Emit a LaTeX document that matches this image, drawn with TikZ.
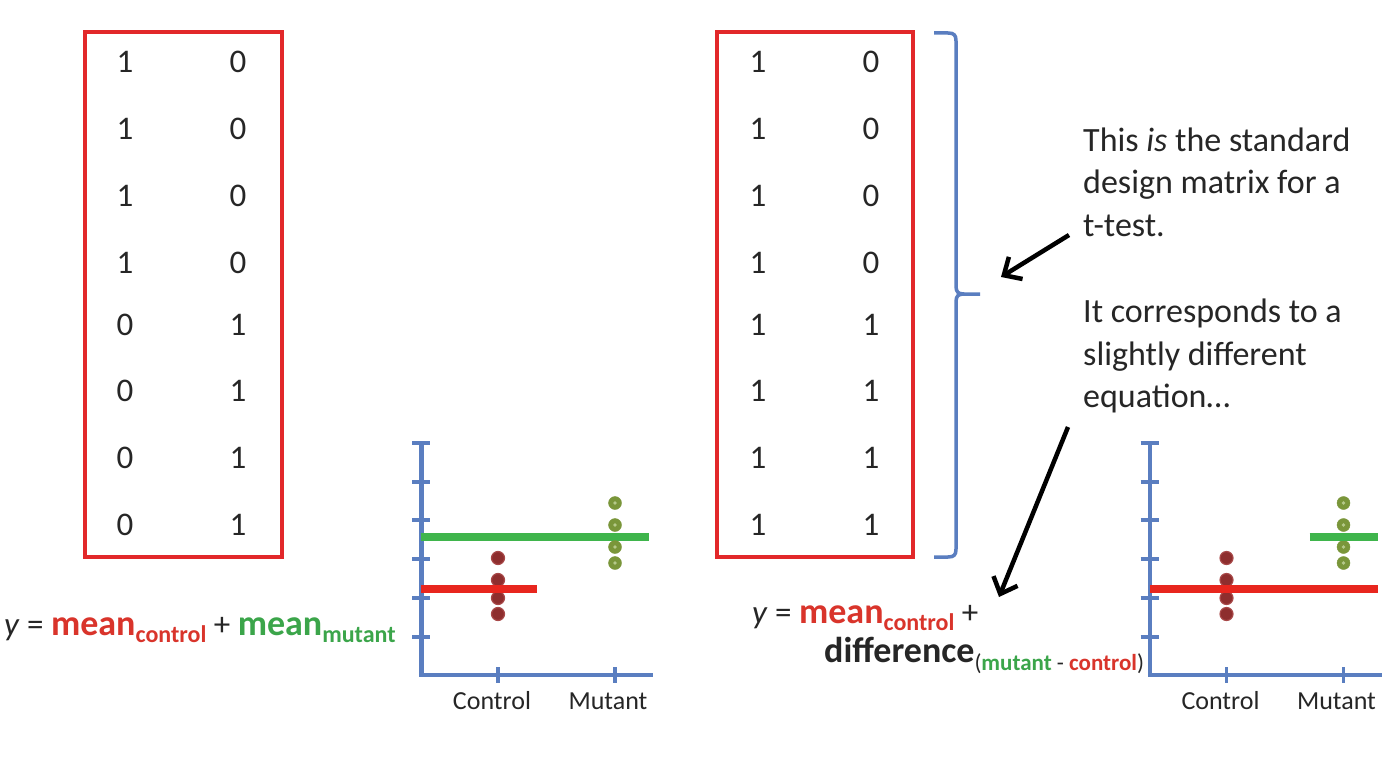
\documentclass[tikz,border=0pt]{standalone}
\usepackage{fontspec}
\setmainfont{Carlito}
\usetikzlibrary{arrows.meta}
\definecolor{boxred}{HTML}{E2282A}
\definecolor{txtred}{HTML}{D9342B}
\definecolor{txtgreen}{HTML}{3BA54A}
\definecolor{linegreen}{HTML}{3FB54C}
\definecolor{linered}{HTML}{E8261E}
\definecolor{axisblue}{HTML}{5A7EC0}
\definecolor{dotred}{HTML}{8E2E2E}
\definecolor{dotredrim}{HTML}{A84848}
\definecolor{dotgreen}{HTML}{7A963A}
\definecolor{dotgreenc}{HTML}{B5C98A}
\definecolor{txtgray}{HTML}{262626}
\begin{document}
\begin{tikzpicture}[x=1pt,y=-1pt,
  matbox/.style={draw=boxred,line width=4.5pt},
  num/.style={font=\fontsize{33}{36}\selectfont,text=txtgray,inner sep=0pt},
  axis/.style={draw=axisblue,line width=4.5pt},
  tick/.style={draw=axisblue,line width=3.5pt},
  meanline/.style={line width=8pt},
  rdot/.style={circle,fill=dotred,draw=dotredrim,line width=1.2pt,minimum size=13pt,inner sep=0pt},
  gdot/.style={circle,fill=dotgreen,draw=dotgreen,minimum size=13pt,inner sep=0pt},
  lbl/.style={font=\fontsize{26}{30}\selectfont,text=txtgray,inner sep=0pt,anchor=base},
  note/.style={font=\fontsize{34}{42}\selectfont,text=txtgray,inner sep=0pt,anchor=base west},
  eq/.style={text=txtgray,inner sep=0pt,anchor=base west},
  pointer/.style={draw=black,line width=4.5pt,-{Straight Barb[length=14pt,width=26pt,line width=4.5pt]}}
]
\useasboundingbox (0,0) rectangle (1392,784);
\fill[white] (0,0) rectangle (1392,784);

% ---- left matrix
\draw[matbox] (85,32) rectangle (282,557);
\foreach \r/\yy in {1/62,2/129,3/196,4/263} {
  \node[num] (la\r) at (125,\yy) {1};
  \node[num] (lb\r) at (238,\yy) {0};
}
\foreach \r/\yy in {5/325,6/391,7/458,8/525} {
  \node[num] (la\r) at (125,\yy) {0};
  \node[num] (lb\r) at (238,\yy) {1};
}

% ---- right matrix
\draw[matbox] (717,32) rectangle (913,557);
\foreach \r/\yy in {1/62,2/129,3/196,4/263} {
  \node[num] (ra\r) at (758,\yy) {1};
  \node[num] (rb\r) at (871,\yy) {0};
}
\foreach \r/\yy in {5/325,6/391,7/458,8/525} {
  \node[num] (ra\r) at (758,\yy) {1};
  \node[num] (rb\r) at (871,\yy) {1};
}

% ---- bracket
\draw[axisblue,line width=3.5pt,line join=round]
  (934,33) -- (948,33) .. controls (954,33) and (956,35) .. (956,41) -- (956,286)
  .. controls (956,292) and (958,294) .. (964,294) -- (980,294)
  (964,294) .. controls (958,294) and (956,296) .. (956,302) -- (956,549)
  .. controls (956,555) and (954,557) .. (948,557) -- (934,557);
\coordinate (bracetip) at (1001,277);

% ---- notes
\node[note] (n1) at (1083,151) {This \textit{is} the standard};
\node[note] (n2) at (1083,193) {design matrix for a};
\node[note] (n3) at (1083,236) {t-test.};
\node[note] (n4) at (1083,322) {It corresponds to a};
\node[note] (n5) at (1083,365) {slightly different};
\node[note] (n6) at (1083,407) {equation…};

\coordinate (a1s) at (1069,235);
\coordinate (a2s) at (1068,427);
\coordinate (a2e) at (999,597);
\draw[pointer] (a1s) -- (bracetip);
\draw[pointer] (a2s) -- (a2e);

% ---- left plot
\begin{scope}[shift={(0,0)}]
  \foreach \yy in {443,482,520,559,598,637} \draw[tick] (412,\yy) -- (430,\yy);
  \foreach \xx in {498,615} \draw[tick] (\xx,667) -- (\xx,683);
  \draw[axis,line cap=butt] (421.5,441) -- (421.5,675) -- (653,675);
  \draw[meanline,draw=linegreen] (421,537) -- (649,537);
  \foreach \yy/\n in {558/1,580/2,598/3,614/4} \node[rdot] (lr\n) at (498,\yy) {};
  \draw[meanline,draw=linered] (421,589) -- (537,589);
  \foreach \yy/\n in {503/1,525/2,547/3,563/4} {
    \node[gdot] (lg\n) at (615,\yy) {};
    \fill[dotgreenc] (615,\yy) circle (1.8pt);
  }
  \node[lbl] (lc) at (492,709) {Control};
  \node[lbl] (lm) at (608,709) {Mutant};
\end{scope}

% ---- right plot
\begin{scope}[shift={(728.5,0)}]
  \foreach \yy in {443,482,520,559,598,637} \draw[tick] (412,\yy) -- (430,\yy);
  \foreach \xx in {498,615} \draw[tick] (\xx,667) -- (\xx,683);
  \draw[axis,line cap=butt] (421.5,441) -- (421.5,675) -- (653,675);
  \foreach \yy/\n in {558/1,580/2,598/3,614/4} \node[rdot] (rr\n) at (498,\yy) {};
  \draw[meanline,draw=linered] (421,589) -- (649,589);
  \foreach \yy/\n in {503/1,525/2,547/3,563/4} {
    \node[gdot] (rg\n) at (615,\yy) {};
    \fill[dotgreenc] (615,\yy) circle (1.8pt);
  }
  \draw[meanline,draw=linegreen] (581,537) -- (649,537);
  \node[lbl] (rc) at (492,709) {Control};
  \node[lbl] (rm) at (608,709) {Mutant};
\end{scope}

% ---- left equation
\node[eq] (eqL) at (4,635) {\fontsize{33}{36}\selectfont\textit{y} = \textcolor{txtred}{\fontsize{36}{40}\selectfont\bfseries mean\raisebox{-7pt}{\fontsize{24}{26}\selectfont control}} + \textcolor{txtgreen}{\fontsize{36}{40}\selectfont\bfseries mean\raisebox{-7pt}{\fontsize{24}{26}\selectfont mutant}}};

% ---- right equation
\node[eq] (eqR1) at (752,623) {\fontsize{33}{36}\selectfont\textit{y} = \textcolor{txtred}{\fontsize{36}{40}\selectfont\bfseries mean\raisebox{-7pt}{\fontsize{24}{26}\selectfont control}} +};
\node[eq] (eqR2) at (824,662) {\fontsize{36}{40}\selectfont\bfseries difference\raisebox{-8pt}{\fontsize{23}{26}\selectfont\mdseries (\textcolor{txtgreen}{\bfseries mutant} - \textcolor{txtred}{\bfseries control})}};
\end{tikzpicture}
\end{document}
